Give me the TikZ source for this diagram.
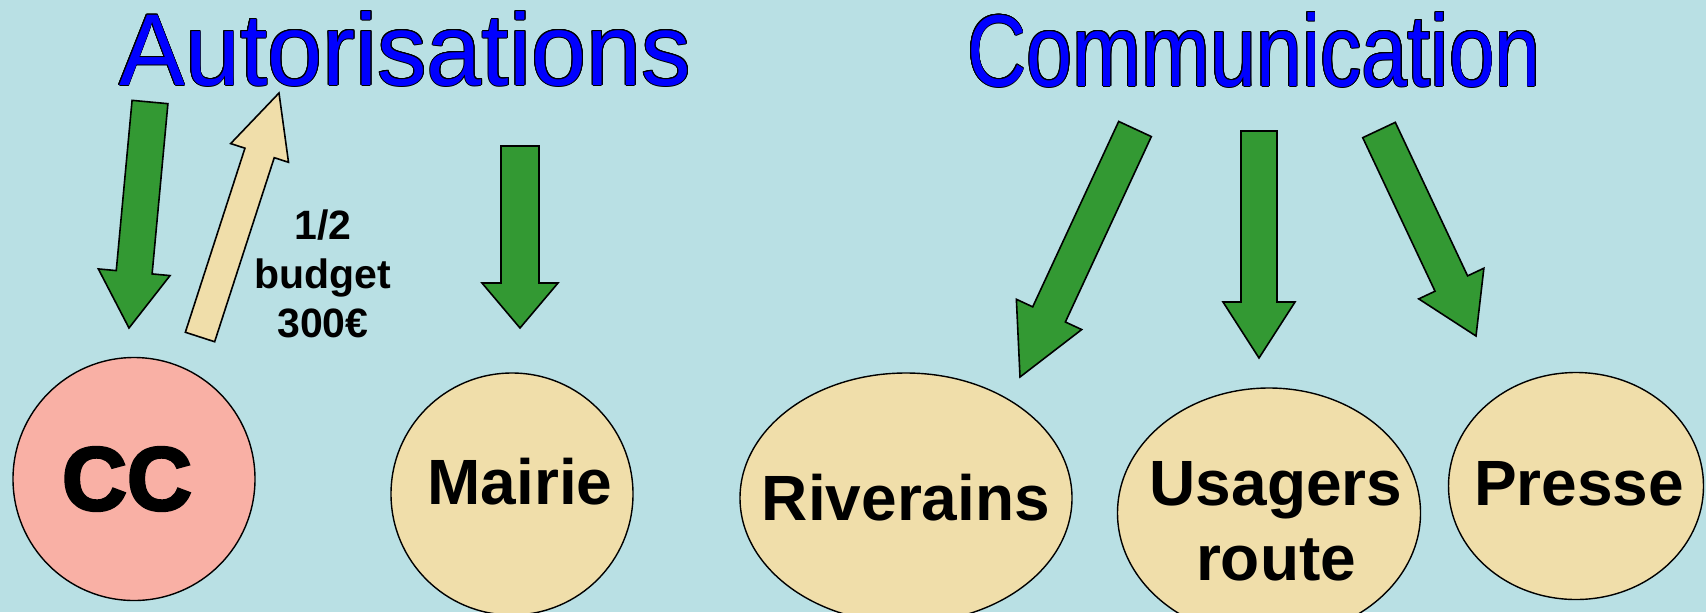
\documentclass[tikz,border=0pt]{standalone}
\usepackage{fontspec}
\setmainfont{Liberation Sans}
\newfontface\heavyface[FakeBold=3]{Liberation Sans Bold}
\usepackage{contour}
\contourlength{0.5pt}
\usetikzlibrary{calc,shapes.geometric}

\definecolor{paleblue}{RGB}{185,224,228}
\definecolor{arrowgreen}{RGB}{51,153,51}
\definecolor{sand}{RGB}{240,222,170}
\definecolor{rose}{RGB}{249,176,165}

\tikzset{
  bshaft/.store in=\shaftw,
  bhead/.store in=\headw,
  blen/.store in=\headl,
  greenarrow/.style={draw=black, line width=0.8pt, line join=miter, fill=arrowgreen,
    bshaft=9pt, bhead=18pt, blen=28pt},
  budgetarrow/.style={greenarrow, fill=sand, bshaft=7.7pt, bhead=15.2pt, blen=31.5pt},
}

% fat arrow from #2 (tail) to #3 (tip)
\newcommand\fatarrow[3][]{%
  \path[#1] ($(#3)!\headl!(#2)$) coordinate (neck);
  \draw[#1] ($(#2)!\shaftw!90:(#3)$) -- ($(neck)!\shaftw!90:(#3)$)
    -- ($(neck)!\headw!90:(#3)$) -- (#3) -- ($(neck)!\headw!-90:(#3)$)
    -- ($(neck)!\shaftw!-90:(#3)$) -- ($(#2)!\shaftw!-90:(#3)$) -- cycle;
}

\begin{document}
\begin{tikzpicture}[x=0.5pt, y=-0.5pt,
  title/.style={font=\fontsize{51}{60}\selectfont, text=blue, inner sep=0pt, anchor=base},
  party/.style={ellipse, draw, line width=0.7pt, fill=sand, inner sep=0pt},
  lbl/.style={font=\bfseries\fontsize{32}{37.5}\selectfont, align=center},
  note/.style={font=\bfseries\fontsize{20.5}{24.5}\selectfont, align=center}]

\fill[paleblue] (0,0) rectangle (1706,612);
\useasboundingbox (0,0) rectangle (1706,612);

% titres
\node[title] (autor) at (405,85) {\scalebox{0.97}[1]{\contour{black}{Autorisations}}};
\node[title] (comm) at (1254,86) {\scalebox{0.81}[1]{\contour{black}{Communication}}};

% acteurs
\node[party, fill=rose, minimum width=121pt, minimum height=121.5pt] (cc) at (134,479) {};
\node[party, minimum width=121pt, minimum height=121pt] (mairie) at (512,494) {};
\node[party, minimum width=166pt, minimum height=125pt] (riv) at (906,498) {};
\node[party, minimum width=151.5pt, minimum height=125pt] (usagers) at (1269,513) {};
\node[party, minimum width=127.5pt, minimum height=113.5pt] (presse) at (1576,486) {};

\node[lbl, font=\heavyface\fontsize{45}{50}\selectfont] (cclbl) at ($(cc)+(-7,0)$) {CC};
\node[lbl] (mairielbl) at ($(mairie)+(8,-12)$) {Mairie};
\node[lbl] (rivlbl) at (riv) {Riverains};
\node[lbl] (usagerslbl) at ($(usagers)+(7,8)$) {Usagers\\route};
\node[lbl] (presselbl) at ($(presse)+(3,-2)$) {Presse};

\node[note] (budget) at (323,274) {1/2\\budget\\300€};

% fleches
\coordinate (cctail) at (150,102);
\coordinate (cctip) at (129,328);
\coordinate (budgettail) at (200,337);
\coordinate (budgettip) at (279,93);
\coordinate (mairietail) at (520,146);
\coordinate (mairietip) at (520,328);
\coordinate (rivtail) at (1135,129);
\coordinate (rivtip) at (1020,377);
\coordinate (usagerstail) at (1259,131);
\coordinate (usagerstip) at (1259,358);
\coordinate (pressetail) at (1379,130);
\coordinate (pressetip) at (1476,336);

\fatarrow[greenarrow]{cctail}{cctip}
\fatarrow[budgetarrow]{budgettail}{budgettip}
\fatarrow[greenarrow, bshaft=9.5pt, bhead=19pt, blen=22.5pt]{mairietail}{mairietip}
\fatarrow[greenarrow, blen=34.5pt]{rivtail}{rivtip}
\fatarrow[greenarrow]{usagerstail}{usagerstip}
\fatarrow[greenarrow, blen=29pt]{pressetail}{pressetip}

\end{tikzpicture}
\end{document}
